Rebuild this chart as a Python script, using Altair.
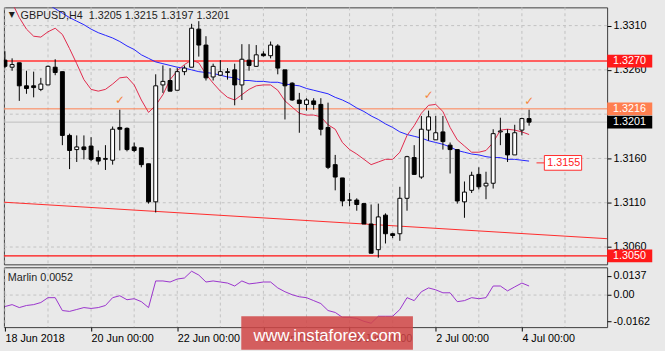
import altair as alt
import pandas as pd

FONT = "Liberation Sans"

# ---------------- data ----------------
idx = list(range(74))
opens = [1.3271, 1.3263, 1.3268, 1.3242, 1.3242, 1.3238, 1.3243, 1.3263, 1.3258, 1.3186,
         1.3170, 1.3173, 1.3174, 1.3161, 1.3159, 1.3158, 1.3195, 1.3194, 1.3173, 1.3172,
         1.3154, 1.3111, 1.3243, 1.3248, 1.3237, 1.3258, 1.3263, 1.3306, 1.3288, 1.3252,
         1.3254, 1.3257, 1.3260, 1.3243, 1.3271, 1.3264, 1.3278, 1.3276, 1.3287, 1.3260,
         1.3245, 1.3226, 1.3221, 1.3225, 1.3221, 1.3195, 1.3153, 1.3138, 1.3113, 1.3113,
         1.3109, 1.3086, 1.3057, 1.3096, 1.3075, 1.3075, 1.3115, 1.3161, 1.3139, 1.3192,
         1.3181, 1.3190, 1.3175, 1.3170, 1.3111, 1.3124, 1.3142, 1.3129, 1.3132, 1.3190,
         1.3188, 1.3164, 1.3192, 1.3205]
highs = [1.3281, 1.3273, 1.3268, 1.3259, 1.3258, 1.3251, 1.3265, 1.3272, 1.3258, 1.3188,
         1.3186, 1.3186, 1.3184, 1.3169, 1.3175, 1.3196, 1.3215, 1.3195, 1.3178, 1.3172,
         1.3154, 1.3255, 1.3265, 1.3262, 1.3262, 1.3265, 1.3312, 1.3315, 1.3298, 1.3267,
         1.3271, 1.3262, 1.3267, 1.3289, 1.3289, 1.3288, 1.3281, 1.3292, 1.3289, 1.3260,
         1.3246, 1.3234, 1.3228, 1.3228, 1.3228, 1.3223, 1.3164, 1.3138, 1.3121, 1.3115,
         1.3109, 1.3108, 1.3109, 1.3098, 1.3076, 1.3128, 1.3163, 1.3175, 1.3208, 1.3214,
         1.3208, 1.3208, 1.3178, 1.3170, 1.3134, 1.3145, 1.3150, 1.3145, 1.3193, 1.3206,
         1.3193, 1.3198, 1.3206, 1.3215]
lows = [1.3262, 1.3259, 1.3225, 1.3233, 1.3229, 1.3236, 1.3243, 1.3254, 1.3175, 1.3148,
        1.3156, 1.3159, 1.3157, 1.3153, 1.3147, 1.3153, 1.3169, 1.3168, 1.3167, 1.3150,
        1.3109, 1.3099, 1.3234, 1.3236, 1.3237, 1.3254, 1.3263, 1.3275, 1.3248, 1.3248,
        1.3253, 1.3249, 1.3220, 1.3226, 1.3259, 1.3264, 1.3275, 1.3273, 1.3255, 1.3204,
        1.3225, 1.3189, 1.3214, 1.3215, 1.3186, 1.3148, 1.3124, 1.3106, 1.3106, 1.3101,
        1.3086, 1.3053, 1.3048, 1.3064, 1.3070, 1.3067, 1.3101, 1.3142, 1.3137, 1.3180,
        1.3181, 1.3170, 1.3143, 1.3109, 1.3093, 1.3121, 1.3125, 1.3114, 1.3126, 1.3175,
        1.3156, 1.3164, 1.3186, 1.3197]
closes = [1.3264, 1.3266, 1.3242, 1.3239, 1.3240, 1.3244, 1.3264, 1.3257, 1.3186, 1.3169,
          1.3173, 1.3170, 1.3159, 1.3157, 1.3160, 1.3193, 1.3193, 1.3170, 1.3169, 1.3153,
          1.3111, 1.3242, 1.3247, 1.3236, 1.3258, 1.3262, 1.3307, 1.3288, 1.3251, 1.3264,
          1.3258, 1.3258, 1.3243, 1.3272, 1.3265, 1.3277, 1.3276, 1.3288, 1.3262, 1.3242,
          1.3226, 1.3222, 1.3226, 1.3221, 1.3193, 1.3150, 1.3139, 1.3112, 1.3113, 1.3108,
          1.3086, 1.3053, 1.3094, 1.3075, 1.3073, 1.3115, 1.3162, 1.3142, 1.3193, 1.3207,
          1.3189, 1.3179, 1.3170, 1.3112, 1.3122, 1.3141, 1.3128, 1.3132, 1.3188, 1.3191,
          1.3164, 1.3189, 1.3205, 1.3201]
blue_ma = [1.3362, 1.3357, 1.3352, 1.3347, 1.3343, 1.3338, 1.3334, 1.3329, 1.3324, 1.3319,
           1.3315, 1.3311, 1.3306, 1.3302, 1.3299, 1.3296, 1.3292, 1.3287, 1.3283, 1.3277,
           1.3273, 1.3269, 1.3267, 1.3265, 1.3263, 1.3262, 1.3260, 1.3258, 1.3257, 1.3256,
           1.3254, 1.3252, 1.3251, 1.3248, 1.3248, 1.3247, 1.3247, 1.3246, 1.3246, 1.3244,
           1.3243, 1.3242, 1.3239, 1.3237, 1.3235, 1.3233, 1.3229, 1.3226, 1.3222, 1.3217,
           1.3213, 1.3208, 1.3204, 1.3199, 1.3195, 1.3190, 1.3187, 1.3185, 1.3183, 1.3180,
           1.3178, 1.3176, 1.3173, 1.3169, 1.3167, 1.3165, 1.3164, 1.3162, 1.3161, 1.3161,
           1.3159, 1.3159, 1.3158, 1.3157]
red_ma = [1.3345, 1.3336, 1.3319, 1.3306, 1.3298, 1.3297, 1.3303, 1.3307, 1.3300, 1.3284,
          1.3267, 1.3249, 1.3238, 1.3236, 1.3238, 1.3244, 1.3251, 1.3252, 1.3243, 1.3226,
          1.3212, 1.3220, 1.3232, 1.3249, 1.3259, 1.3266, 1.3271, 1.3268, 1.3255, 1.3245,
          1.3236, 1.3229, 1.3226, 1.3232, 1.3238, 1.3242, 1.3243, 1.3243, 1.3237, 1.3225,
          1.3218, 1.3211, 1.3209, 1.3209, 1.3207, 1.3198, 1.3193, 1.3178, 1.3170, 1.3165,
          1.3159, 1.3153, 1.3156, 1.3159, 1.3159, 1.3167, 1.3186, 1.3197, 1.3211, 1.3220,
          1.3221, 1.3213, 1.3195, 1.3181, 1.3174, 1.3167, 1.3167, 1.3169, 1.3178, 1.3192,
          1.3193, 1.3192, 1.3190, 1.3187]
marlin = [-0.0066, -0.0055, -0.0072, -0.0060, -0.0055, -0.0043, -0.0015, -0.0015, -0.0089, -0.0094,
          -0.0083, -0.0072, -0.0077, -0.0072, -0.0060, -0.0015, -0.0004, -0.0027, -0.0021, -0.0038,
          -0.0072, 0.0081, 0.0081, 0.0075, 0.0092, 0.0098, 0.0137, 0.0115, 0.0075, 0.0081,
          0.0075, 0.0069, 0.0052, 0.0081, 0.0064, 0.0069, 0.0075, 0.0075, 0.0041, 0.0019,
          0.0002, -0.0010, -0.0015, -0.0032, -0.0049, -0.0089, -0.0100, -0.0128, -0.0128, -0.0134,
          -0.0151, -0.0162, -0.0122, -0.0122, -0.0122, -0.0083, -0.0015, -0.0032, 0.0019, 0.0041,
          0.0030, 0.0013, 0.0013, -0.0038, -0.0032, -0.0015, -0.0021, -0.0015, 0.0052, 0.0052,
          0.0024, 0.0047, 0.0069, 0.0052]

x_label_pos = [0, 12, 24, 36, 48, 60, 72]
x_labels = ["18 Jun 2018", "20 Jun 00:00", "22 Jun 00:00", "26 Jun 00:00",
            "28 Jun 00:00", "2 Jul 00:00", "4 Jul 00:00"]
grid_pos = list(range(0, 84, 6))
price_ticks = [1.3060, 1.3110, 1.3160, 1.3260, 1.3310]
price_grid = [1.3060, 1.3110, 1.3160, 1.3210, 1.3260, 1.3310]

level_prices = [1.3270, 1.3216, 1.3201, 1.3050]
level_colors = ["#ff6060", "#ff7f50", "#bdbdbd", "#ff1010"]
level_widths = [2, 1, 1, 1.2]
box_colors = ["#ff1a1a", "#ff7f50", "#000000", "#ff1a1a"]

trend_x = [-0.14, 83.87]
trend_p = [1.31106, 1.30694]

check_idx = [16, 59, 73]
check_price = [1.3226, 1.3231, 1.3225]

ma_label_price = [1.3155]
ma_label_text = ["1.3155"]

marlin_tick_pos = [0.01105, 0.0, -0.01523]
marlin_tick_labels = ["0.0137", "0.00", "-0.0162"]

header_text = "GBPUSD,H4\u00a0\u00a01.3205 1.3215 1.3197 1.3201"
marlin_title = "Marlin 0.0052"
watermark = "www.instaforex.com"

# ---------------- tables ----------------
candles = pd.DataFrame({"i": idx, "o": opens, "h": highs, "l": lows, "c": closes})
candles["fill"] = ["#ffffff" if c >= o else "#000000" for o, c in zip(opens, closes)]
ma = pd.DataFrame({"i": idx, "blue": blue_ma, "red": red_ma, "m": marlin})
grid_df = pd.DataFrame({"g": grid_pos})
hgrid_df = pd.DataFrame({"p": price_grid})
levels_df = pd.DataFrame({"p": level_prices, "col": level_colors, "w": level_widths,
                          "bc": box_colors, "t": [f"{v:.4f}" for v in level_prices]})
trend_df = pd.DataFrame({"tx": trend_x, "tp": trend_p})
checks_df = pd.DataFrame({"ci": check_idx, "cp": check_price})
malab_df = pd.DataFrame({"p": ma_label_price, "t": ma_label_text})
one = pd.DataFrame({"t": [header_text]})
one_m = pd.DataFrame({"t": [marlin_title]})
one_w = pd.DataFrame({"t": [watermark]})
zero_df = pd.DataFrame({"z": [0.0]})

# ---------------- scales / axes ----------------
xs = alt.Scale(domain=[-0.14, 83.87], nice=False, zero=False, padding=0)
ys = alt.Scale(domain=[1.304044, 1.333056], nice=False, zero=False, padding=0)
ms = alt.Scale(domain=[-0.01844, 0.01596], nice=False, zero=False, padding=0)

y_axis = alt.Axis(orient="right", values=price_ticks, format=".4f", tickSize=4,
                  labelPadding=2, domain=False, grid=False, title=None, labelFlush=False)

lab_expr = ""
for v, s in zip(x_label_pos, x_labels):
    lab_expr += f"datum.value == {v} ? '{s}' : "
lab_expr += "''"
x_axis_ind = alt.Axis(orient="bottom", values=x_label_pos, labelExpr=lab_expr, tickSize=4,
                      labelPadding=2, labelAlign="left", labelBaseline="top",
                      domain=False, grid=False, title=None, labelFlush=False,
                      labelOverlap=False)

m_expr = ""
for v, s in zip(marlin_tick_pos, marlin_tick_labels):
    m_expr += f"abs(datum.value - ({v})) < 0.001 ? '{s}' : "
m_expr += "''"
m_axis = alt.Axis(orient="right", values=marlin_tick_pos, labelExpr=m_expr, tickSize=4,
                  labelPadding=2, domain=False, grid=False, title=None, labelFlush=False)


def X(f):
    return alt.X(f, type="quantitative", scale=xs, axis=None)


def Y(f):
    return alt.Y(f, type="quantitative", scale=ys, axis=y_axis)


def XI(f):
    return alt.X(f, type="quantitative", scale=xs, axis=x_axis_ind)


def YM(f):
    return alt.Y(f, type="quantitative", scale=ms, axis=m_axis)


# ---------------- main panel ----------------
vgrid = alt.Chart(grid_df).mark_rule(color="#c2c2c2", strokeDash=[3, 3], strokeWidth=1).encode(x=X("g"))
hgrid = alt.Chart(hgrid_df).mark_rule(color="#c2c2c2", strokeDash=[3, 3], strokeWidth=1).encode(y=Y("p"))
levels = alt.Chart(levels_df).mark_rule().encode(
    y=Y("p"), color=alt.Color("col:N", scale=None), strokeWidth=alt.StrokeWidth("w:Q", scale=None))
trend = alt.Chart(trend_df).mark_line(color="#ff2a2a", strokeWidth=1, clip=True).encode(x=X("tx"), y=Y("tp"))
blue = alt.Chart(ma).mark_line(color="#2222ff", strokeWidth=1, clip=True).encode(x=X("i"), y=Y("blue"))
red = alt.Chart(ma).mark_line(color="#e0284a", strokeWidth=1, clip=True).encode(x=X("i"), y=Y("red"))
wicks = alt.Chart(candles).mark_rule(color="#000000", strokeWidth=1, clip=True).encode(
    x=X("i"), y=Y("l"), y2=alt.Y2("h"))
bodies = alt.Chart(candles).mark_bar(size=4, stroke="#000000", strokeWidth=1, clip=True, opacity=1).encode(
    x=X("i"), y=Y("o"), y2=alt.Y2("c"), fill=alt.Fill("fill:N", scale=None))
checks = alt.Chart(checks_df).mark_text(text="\u2713", font="DejaVu Sans", fontSize=12,
                                         color="#f5873f").encode(x=X("ci"), y=Y("cp"))
leader = alt.Chart(malab_df).mark_rule(color="#ff2a2a", strokeWidth=1).encode(
    x=alt.value(543), x2=alt.value(551), y=Y("p"))
ma_box = alt.Chart(malab_df).mark_tick(orient="horizontal", size=38, thickness=15, fill="#ffffff",
                                       stroke="#ff2a2a", strokeWidth=1, opacity=1).encode(
    x=alt.value(570), y=Y("p"))
ma_txt = alt.Chart(malab_df).mark_text(align="left", baseline="middle", color="#ff2020",
                                       fontSize=11, font=FONT).encode(
    x=alt.value(554), y=Y("p"), text="t:N")
boxes = alt.Chart(levels_df).mark_tick(orient="horizontal", size=46, thickness=13, opacity=1).encode(
    x=alt.value(638), y=Y("p"), color=alt.Color("bc:N", scale=None))
box_txt = alt.Chart(levels_df).mark_text(align="left", baseline="middle", color="#ffffff",
                                         fontSize=11, font=FONT).encode(
    x=alt.value(621), y=Y("p"), text="t:N")
header = alt.Chart(one).mark_text(align="left", baseline="alphabetic", fontSize=11, font=FONT,
                                  color="#1e1e1e").encode(x=alt.value(17), y=alt.value(12), text="t:N")
tri = alt.Chart(one).mark_text(text="\u25bc", align="center", baseline="middle", fontSize=8,
                               font="DejaVu Sans", color="#1e1e1e").encode(x=alt.value(8), y=alt.value(8))

main = alt.layer(vgrid, hgrid, levels, trend, blue, red, wicks, bodies, checks, leader, ma_box, ma_txt,
                 boxes, box_txt, header, tri).properties(width=615, height=262)

# ---------------- indicator panel ----------------
vgrid2 = alt.Chart(grid_df).mark_rule(color="#c2c2c2", strokeDash=[3, 3], strokeWidth=1).encode(x=XI("g"))
zero = alt.Chart(zero_df).mark_rule(color="#c2c2c2", strokeDash=[3, 3], strokeWidth=1).encode(y=YM("z"))
mline = alt.Chart(ma).mark_line(color="#9932cc", strokeWidth=1, clip=True).encode(x=XI("i"), y=YM("m"))
mtitle = alt.Chart(one_m).mark_text(align="left", baseline="alphabetic", fontSize=11, font=FONT,
                                    color="#1e1e1e").encode(x=alt.value(4), y=alt.value(14), text="t:N")
wm_box = alt.Chart(one_w).mark_rect(fill="#d04545", opacity=0.85).encode(
    x=alt.value(242), x2=alt.value(417), y=alt.value(50), y2=alt.value(84))
wm_txt = alt.Chart(one_w).mark_text(align="center", baseline="alphabetic", fontSize=17, font=FONT,
                                    color="#ffffff").encode(x=alt.value(330), y=alt.value(75), text="t:N")

ind = alt.layer(vgrid2, zero, mline, mtitle, wm_box, wm_txt).properties(width=615, height=61)

chart = alt.vconcat(main, ind, spacing=3).resolve_scale(x="independent", y="independent").properties(
    background="#e9e9e9",
    padding={"left": 2, "top": 3, "right": 12, "bottom": 6},
    bounds="flush",
).configure_view(stroke="#3c3c3c", strokeWidth=1).configure_axis(
    labelFont=FONT, labelFontSize=11, labelColor="#000000", tickColor="#000000"
)

chart.save("out.html", embed_options={"renderer": "svg", "actions": False})
